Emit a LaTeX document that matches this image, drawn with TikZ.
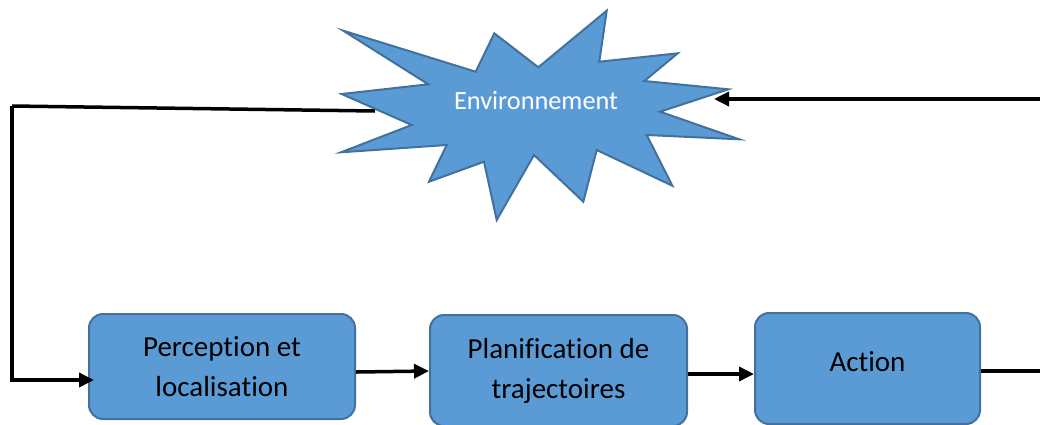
\documentclass[tikz,border=0pt]{standalone}
\usepackage{fontspec}
\setmainfont{Carlito}[Ligatures=NoCommon]
\usetikzlibrary{arrows.meta,calc}
\definecolor{boxfill}{HTML}{5B9BD5}
\definecolor{boxdraw}{HTML}{41719C}
\begin{document}
\begin{tikzpicture}[x=1pt,y=-1pt,
  box/.style={draw=boxdraw, fill=boxfill, line width=2pt, rounded corners=14pt,
    align=center, font=\fontsize{29}{40}\selectfont, text=black, inner sep=0pt},
  starshape/.style={draw=boxdraw, fill=boxfill, line width=2pt, line join=miter},
  conn/.style={line width=3.5pt, black, line join=miter},
  arr/.style={conn, -{Triangle[length=15pt,width=14pt]}}]
\useasboundingbox (0,0) rectangle (1040,424);
\clip (0,0) rectangle (1040,424);

% connector ends
\coordinate (envL) at (375,111);
\coordinate (envR) at (714,99);
\coordinate (lt) at (12,106);
\coordinate (rt) at (1042,99);
\coordinate (rb) at (1042,371);

% feedback line to the left (under the star)
\draw[conn] (envL) -- (lt);
% star
\draw[starshape] (343.3,30.7) -- (475.7,71.7) -- (494.3,33.3) -- (538.3,67.3)
  -- (606.7,10.7) -- (599.3,61.7) -- (677.7,53.3) -- (644.3,81)
  -- (728.3,89.3) -- (660,111.7) -- (739.3,139.3) -- (646.7,135)
  -- (672.3,185.7) -- (596.7,150) -- (583.3,201.7) -- (534,155)
  -- (496.7,220) -- (484,161.7) -- (429,181.7) -- (446.7,145)
  -- (341,152.3) -- (411.7,125) -- (341.7,94) -- (428.3,84.3) -- cycle;
\node[text=white, font=\fontsize{26.3}{30}\selectfont, anchor=base] (env) at (536,109.3) {Environnement};

% boxes
\node[box, minimum width=266pt, minimum height=105pt] (p1) at (222,366.5) {Perception et\\localisation};
\node[box, minimum width=257pt, minimum height=111pt] (p2) at (558.5,370.5) {Planification de\\trajectoires};
\node[box, minimum width=225pt, minimum height=111pt] (act) at (867.5,368.5) {\raisebox{14pt}{Action}};

% connectors
\draw[arr] (lt) |- ($(p1.west)+(6,13.5)$);
\draw[arr] ($(p1.east)+(0,5.5)$) -- ($(p2.west)+(0,0.5)$);
\draw[arr] ($(p2.east)+(0,3.5)$) -- ($(act.west)+(0,5.5)$);
\draw[conn] ($(act.east)+(0,2.5)$) -- (rb);
\draw[arr] (rt) -- (envR);
\end{tikzpicture}
\end{document}
